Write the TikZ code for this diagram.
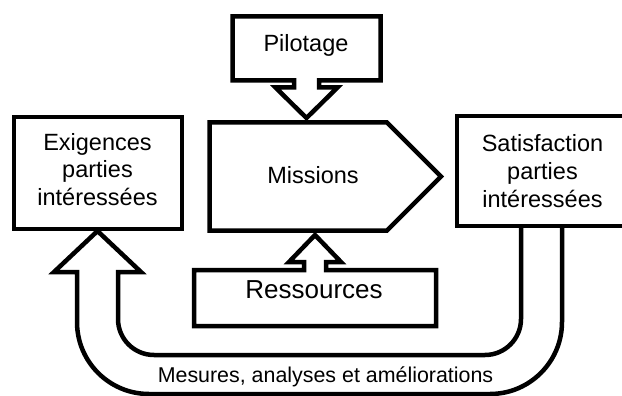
\documentclass[tikz,border=0pt]{standalone}
\usepackage{fontspec}
\setmainfont{Liberation Sans}
\begin{document}
\begin{tikzpicture}[x=1pt,y=-1pt,
  shapeline/.style={draw=black,line width=4.5pt,line join=miter},
  lbl/.style={inner sep=0pt,font=\fontsize{23.5}{27.5}\selectfont},
  mlbl/.style={lbl,text width=170pt,align=center}]
\useasboundingbox (0,0) rectangle (622,396);
\clip (0,0) rectangle (622,396);
% Pilotage box with arrow
\draw[shapeline] (232.5,16.5) -- (380.5,16.5) -- (380.5,80.5) -- (319,80.5) -- (319,87.5) -- (337.5,87.5) -- (306.5,118) -- (275.5,87.5) -- (294,87.5) -- (294,80.5) -- (232.5,80.5) -- cycle;
% Missions pentagon
\draw[shapeline] (209.5,122.5) -- (387,122.5) -- (441,176.5) -- (387,230.5) -- (209.5,230.5) -- cycle;
% Ressources box with arrow
\draw[shapeline] (194,270) -- (304,270) -- (304,262) -- (289,262) -- (315,235) -- (341,262) -- (326,262) -- (326,270) -- (436,270) -- (436,326) -- (194,326) -- cycle;
% Exigences box
\draw[shapeline] (14,117) rectangle (182,229);
% Satisfaction box
\draw[shapeline] (457,116) rectangle (640,226);
% U-shaped return arrow
\draw[shapeline] (521,226) -- (521,319) arc[start angle=0,end angle=90,radius=36] -- (154,355) arc[start angle=90,end angle=180,radius=36] -- (118,272) -- (141,272) -- (97.5,231) -- (54,272) -- (77,272) -- (77,322) arc[start angle=180,end angle=90,radius=72] -- (490,394) arc[start angle=90,end angle=0,radius=72] -- (562,226);
% Labels
\node[lbl,anchor=base] (pil) at (306,52) {Pilotage};
\node[lbl,anchor=base] (mis) at (313,183) {Missions};
\node[mlbl,anchor=base] (exi) at (97.5,150) {Exigences\\parties\\intéressées};
\node[mlbl,anchor=base] (sat) at (542.5,152) {Satisfaction\\parties\\intéressées};
\node[lbl,anchor=base,font=\fontsize{26}{30}\selectfont] (res) at (314,298) {Ressources};
\node[lbl,anchor=base,font=\fontsize{21.4}{25}\selectfont] (mes) at (325.5,382) {Mesures, analyses et améliorations};
\end{tikzpicture}
\end{document}
